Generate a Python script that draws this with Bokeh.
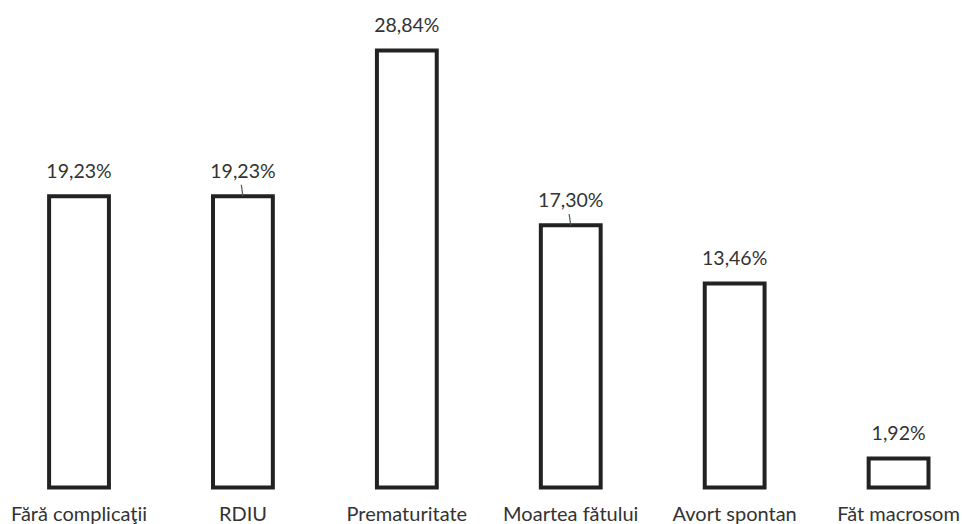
from bokeh.plotting import figure
from bokeh.models import ColumnDataSource, Range1d
from bokeh.core.properties import value
from bokeh.embed import file_html
from bokeh.resources import INLINE

categories = ["Fără complicaţii", "RDIU", "Prematuritate", "Moartea fătului", "Avort spontan", "Făt macrosom"]
values = [19.23, 19.23, 28.84, 17.30, 13.46, 1.92]
value_labels = ["19,23%", "19,23%", "28,84%", "17,30%", "13,46%", "1,92%"]
has_leader = [False, True, False, True, False, False]

xs = list(range(len(categories)))
src = ColumnDataSource(dict(x=xs, top=values, cat=categories, lab=value_labels,
                            ylab=[0] * len(xs)))

p = figure(width=962, height=524, output_backend="svg", toolbar_location=None,
           x_range=Range1d(-0.479, 5.39), y_range=Range1d(-2.44, 32.14),
           min_border=0, background_fill_color="white", border_fill_color="white")
p.axis.visible = False
p.grid.visible = False
p.outline_line_color = None

p.vbar(x="x", top="top", bottom=0, width=0.365, source=src,
       fill_color=None, line_color="#222222", line_width=4, line_join="miter")

p.text(x="x", y="top", text="lab", source=src, text_align="center", text_baseline="middle",
       y_offset=-26, text_font=value("Lato"), text_font_size="19.5px", text_color="#333333")

p.text(x="x", y="ylab", text="cat", source=src, text_align="center", text_baseline="middle",
       y_offset=25, text_font=value("Lato"), text_font_size="20px", text_color="#333333")

lx = [x for x, h in zip(xs, has_leader) if h]
ly = [v for v, h in zip(values, has_leader) if h]
p.segment(x0=lx, y0=ly, x1=[x - 0.01 for x in lx], y1=[v + 0.75 for v in ly],
          line_color="#555555", line_width=1.2)

open("out.html", "w").write(file_html(p, INLINE))
